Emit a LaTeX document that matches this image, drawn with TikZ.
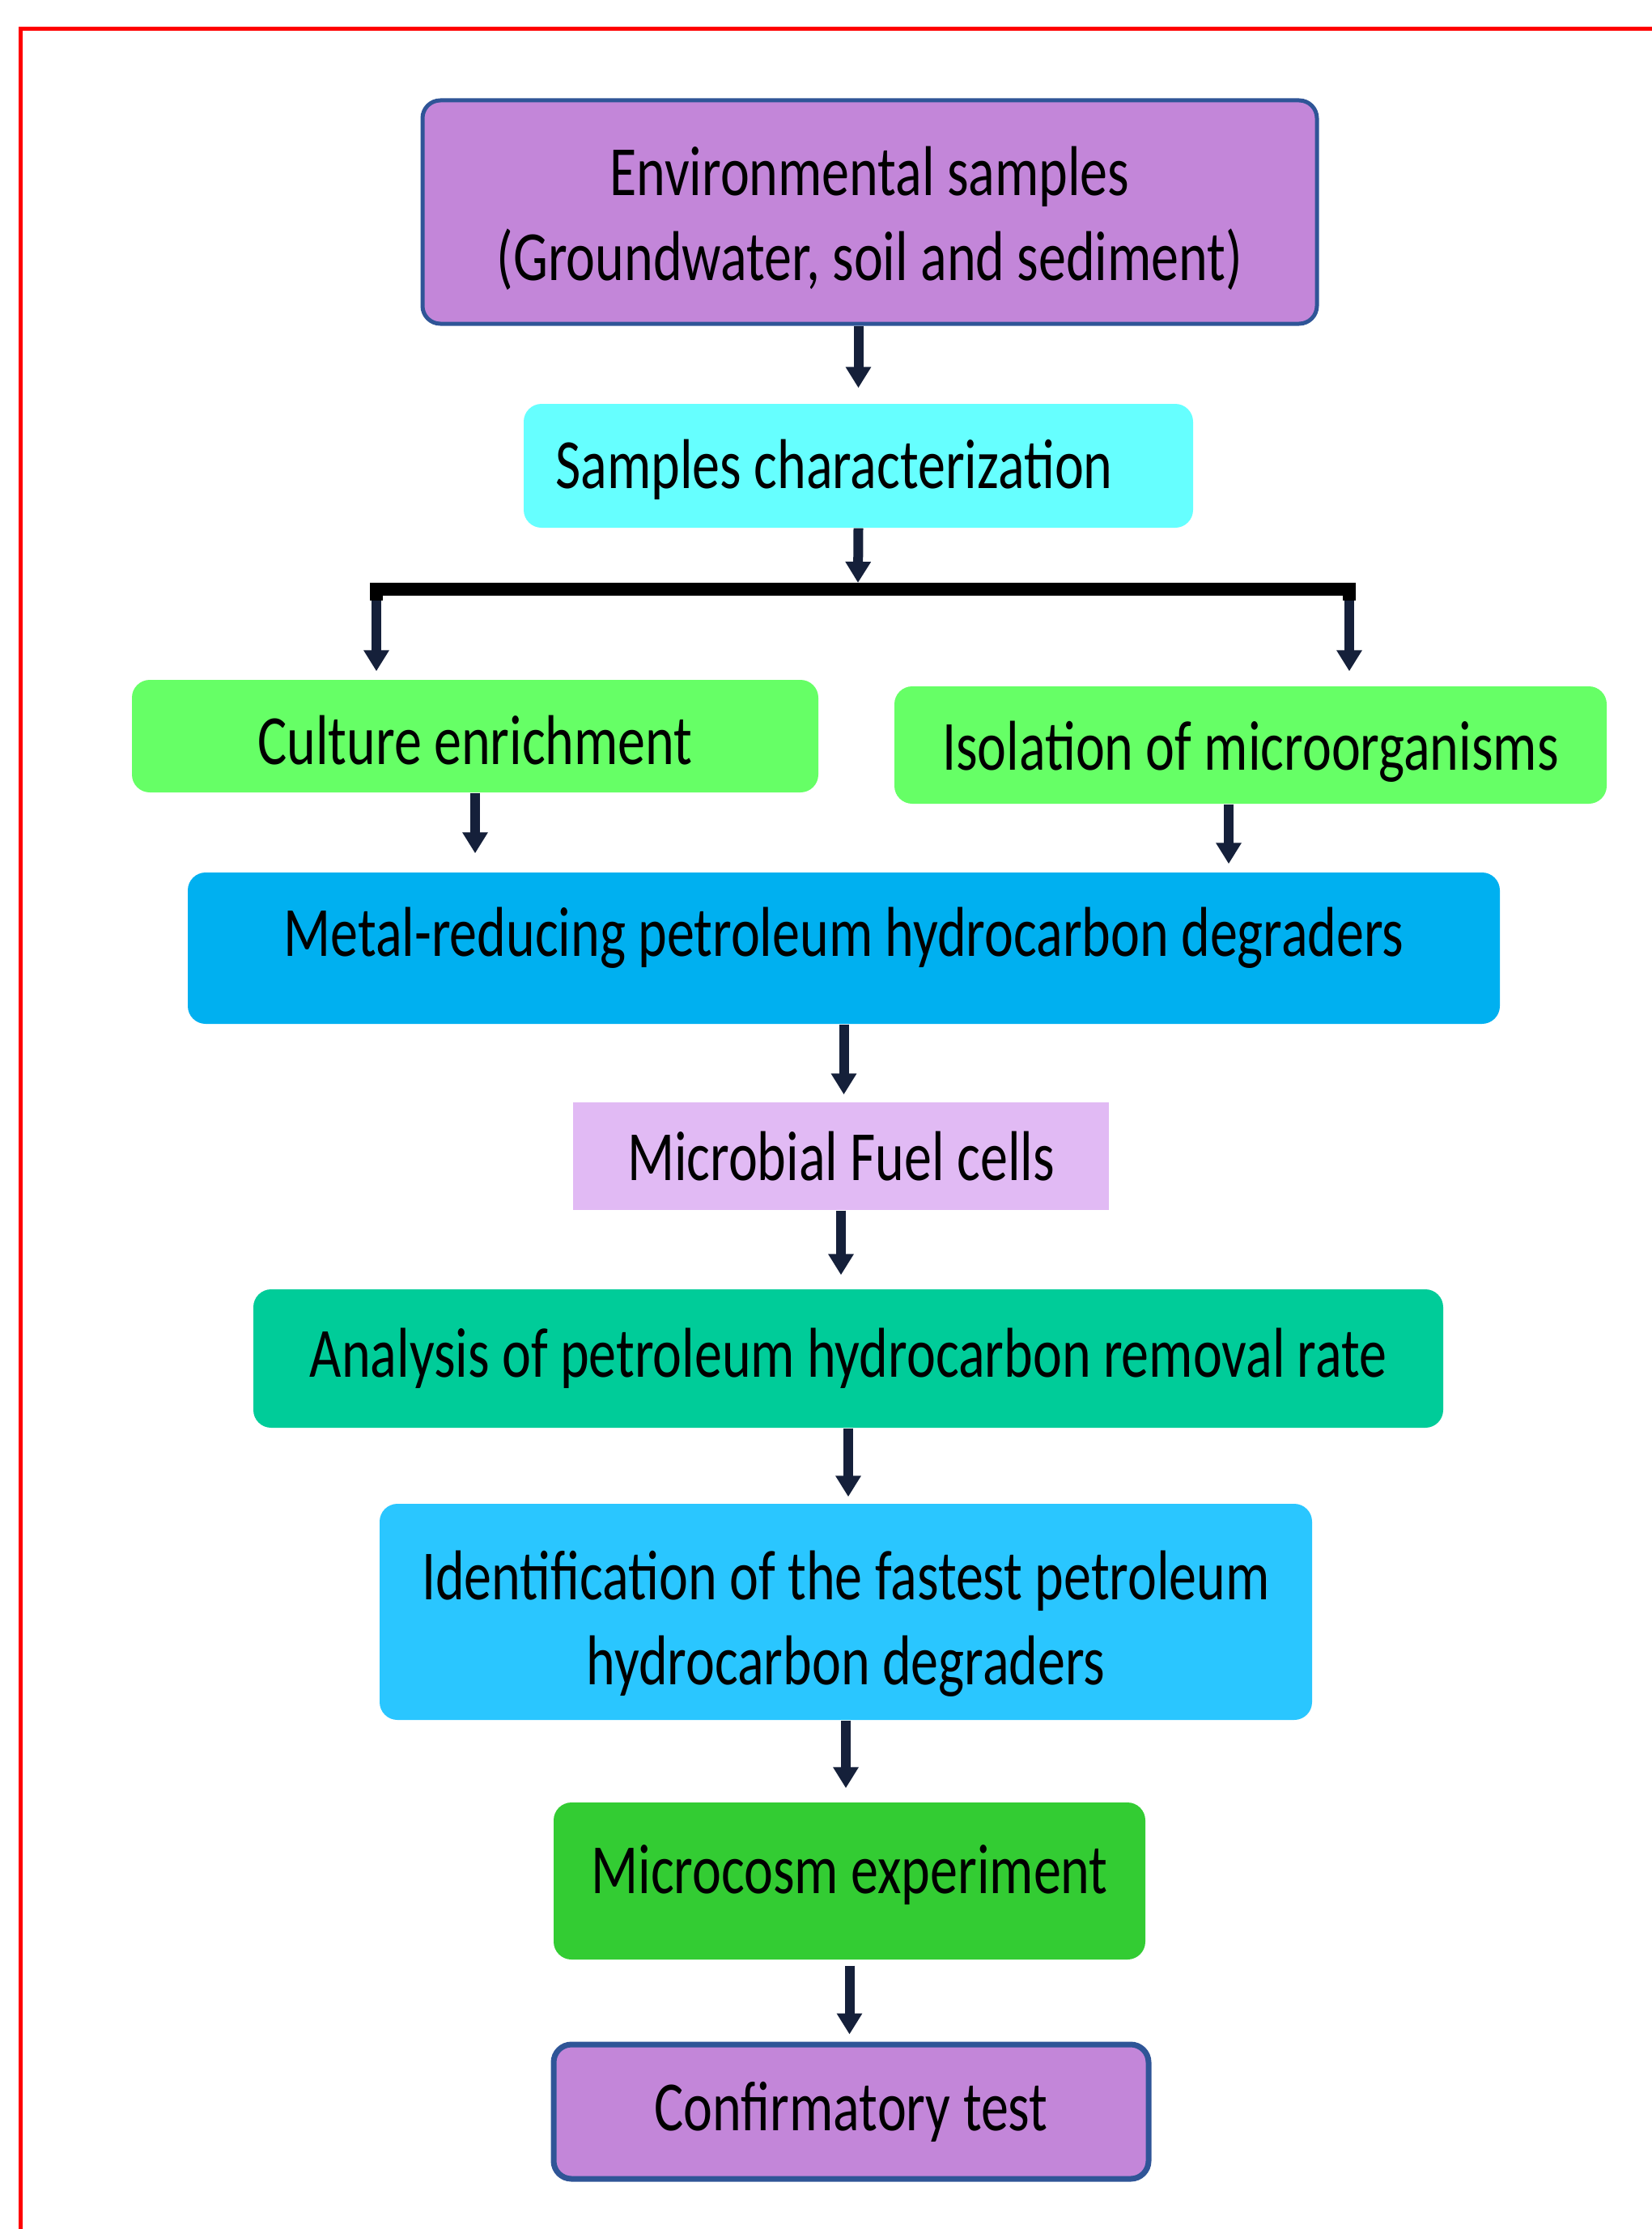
\documentclass[tikz,border=0pt]{standalone}
\usepackage{fontspec}
\newfontfamily\boxfont[FakeStretch=0.78]{Carlito}
\usetikzlibrary{calc}
\usetikzlibrary{arrows.meta}

\definecolor{purplebox}{HTML}{C386D9}
\definecolor{navyline}{HTML}{2F5597}
\definecolor{cyanbox}{HTML}{66FFFF}
\definecolor{greenbox}{HTML}{66FF66}
\definecolor{bluebox}{HTML}{00B0F0}
\definecolor{lavenderbox}{HTML}{E1BAF4}
\definecolor{tealbox}{HTML}{00CC99}
\definecolor{skybox}{HTML}{2AC6FF}
\definecolor{darkgreenbox}{HTML}{33CC33}
\definecolor{arrowcol}{HTML}{15203A}

% move the glyphs of a line without changing its box
\newcommand{\liftline}[2]{\raisebox{#1}[\height][\depth]{#2}}

\tikzset{
  stepbox/.style={rounded corners=0.22cm, inner sep=0pt, align=center,
    font=\boxfont\fontsize{24.8}{29.9}\selectfont},
  flowarrow/.style={draw=arrowcol, line width=0.12cm, -{Triangle[width=0.3cm,length=0.26cm]}},
  barline/.style={draw=black, line width=0.16cm}
}

\begin{document}
\begin{tikzpicture}

\clip (0,0) rectangle (20.41,-27.54);
\draw[red, line width=0.05cm] (0.26,-28) -- (0.26,-0.36) -- (21,-0.36);

\node[stepbox, fill=purplebox, draw=navyline, line width=0.05cm, minimum width=11.05cm, minimum height=2.76cm] (env) at (10.745,-2.62)
  {\liftline{-0.08cm}{Environmental samples}\\\liftline{-0.08cm}{(Groundwater, soil and sediment)}};
\node[stepbox, fill=cyanbox, minimum width=8.27cm, minimum height=1.53cm] (char) at (10.605,-5.755)
  {\liftline{-0.05cm}{\hspace*{-0.6cm}Samples characterization}};
\node[stepbox, fill=greenbox, minimum width=8.48cm, minimum height=1.39cm] (cult) at (5.87,-9.095) {\liftline{-0.05cm}{Culture enrichment}};
\node[stepbox, fill=greenbox, minimum width=8.80cm, minimum height=1.45cm] (iso) at (15.45,-9.205) {\liftline{-0.08cm}{Isolation of microorganisms}};
\node[stepbox, fill=bluebox, minimum width=16.21cm, minimum height=1.87cm] (metal) at (10.425,-11.715)
  {\liftline{0.13cm}{Metal-reducing petroleum hydrocarbon degraders}};
\node[stepbox, rounded corners=0pt, fill=lavenderbox, minimum width=6.62cm, minimum height=1.33cm] (fuel) at (10.39,-14.285) {Microbial Fuel cells};
\node[stepbox, fill=tealbox, minimum width=14.70cm, minimum height=1.71cm] (anal) at (10.48,-16.785)
  {Analysis of petroleum hydrocarbon removal rate};
\node[stepbox, fill=skybox, minimum width=11.52cm, minimum height=2.67cm] (ident) at (10.45,-19.915)
  {\liftline{-0.15cm}{Identification of the fastest petroleum}\\\liftline{-0.15cm}{hydrocarbon degraders}};
\node[stepbox, fill=darkgreenbox, minimum width=7.31cm, minimum height=1.94cm] (micro) at (10.495,-23.24) {\liftline{0.07cm}{Microcosm experiment}};
\node[stepbox, fill=purplebox, draw=navyline, line width=0.07cm, minimum width=7.35cm, minimum height=1.66cm] (conf) at (10.515,-26.09) {Confirmatory test};

\coordinate (split) at (10.6,-7.2);
\coordinate (lbar) at (4.65,-7.42);
\coordinate (rbar) at (16.67,-7.42);
\coordinate (isoout) at ($(iso.south)+(-0.27,0)$);

\draw[flowarrow, shorten >=0.19cm] (char.north |- env.south) -- (char.north);
\draw[flowarrow] (char.south) -- (split);
\draw[barline] (lbar) |- (10.6,-7.28) -| (rbar);
\draw[flowarrow, shorten >=0.1cm] (lbar) -- (lbar |- cult.north);
\draw[flowarrow, shorten >=0.18cm] (rbar) -- (rbar |- iso.north);
\draw[flowarrow, shorten >=0.23cm] (cult.south) -- (cult.south |- metal.north);
\draw[flowarrow, shorten >=0.1cm] (isoout) -- (isoout |- metal.north);
\draw[flowarrow, shorten >=0.09cm] (metal.south) -- (metal.south |- fuel.north);
\draw[flowarrow, shorten >=0.17cm] (fuel.south) -- (fuel.south |- anal.north);
\draw[flowarrow, shorten >=0.08cm] (anal.south) -- (anal.south |- ident.north);
\draw[flowarrow, shorten >=0.17cm] (ident.south) -- (ident.south |- micro.north);
\draw[flowarrow, shorten <=0.07cm, shorten >=0.09cm] (micro.south) -- (micro.south |- conf.north);

\end{tikzpicture}
\end{document}
